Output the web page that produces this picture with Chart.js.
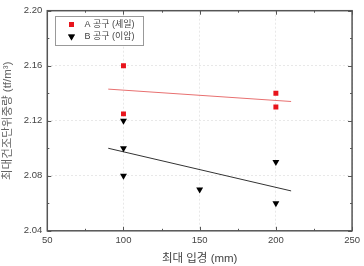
<!DOCTYPE html>
<html>
<head>
<meta charset="utf-8">
<script src="https://cdn.jsdelivr.net/npm/chart.js@4/dist/chart.umd.min.js"></script>
<style>
  html, body { margin: 0; padding: 0; background: #fff; }
  #wrap { width: 364px; height: 266px; position: relative; }
</style>
</head>
<body>
<div id="wrap"><canvas id="myChart"></canvas></div>
<script>
// data
const seriesNames = ['A 공구 (셰일)', 'B 공구 (이암)'];
const aX = [100, 100, 200, 200];
const aY = [2.16, 2.125, 2.14, 2.13];
const bX = [100, 100, 100, 150, 200, 200];
const bY = [2.12, 2.10, 2.08, 2.07, 2.09, 2.06];
// fitted lines (end points as read)
const fitAX = [90, 210];
const fitAY = [2.143, 2.134];
const fitBX = [90, 210];
const fitBY = [2.100, 2.069];
const xTicks = [50, 100, 150, 200, 250];
const yTicks = [2.04, 2.08, 2.12, 2.16, 2.20];

const pts = (xs, ys) => xs.map((x, i) => ({ x: x, y: ys[i] }));
const FONT = "'Liberation Sans', 'Noto Sans CJK KR', sans-serif";

// frame, inward tick marks and the boxed legend
const framePlugin = {
  id: 'frame',
  afterDraw: (chart) => {
    const ctx = chart.ctx;
    const { left, right, top, bottom } = chart.chartArea;
    const xs = chart.scales.x, ys = chart.scales.y;
    ctx.save();
    ctx.strokeStyle = '#555';
    ctx.lineWidth = 1.5;
    ctx.strokeRect(left, top, right - left, bottom - top);
    ctx.lineWidth = 1;
    for (let i = 0; i < xTicks.length; i++) {
      const v = xTicks[i];
      const px = Math.round(xs.getPixelForValue(v)) + 0.5;
      ctx.beginPath();
      ctx.moveTo(px, bottom); ctx.lineTo(px, bottom - 4);
      ctx.moveTo(px, top); ctx.lineTo(px, top + 4);
      ctx.stroke();
      if (i < xTicks.length - 1) {
        const mx = Math.round(xs.getPixelForValue((v + xTicks[i + 1]) / 2)) + 0.5;
        ctx.beginPath();
        ctx.moveTo(mx, bottom); ctx.lineTo(mx, bottom - 2);
        ctx.moveTo(mx, top); ctx.lineTo(mx, top + 2);
        ctx.stroke();
      }
    }
    for (let i = 0; i < yTicks.length; i++) {
      const v = yTicks[i];
      const py = Math.round(ys.getPixelForValue(v)) + 0.5;
      ctx.beginPath();
      ctx.moveTo(left, py); ctx.lineTo(left + 4, py);
      ctx.moveTo(right, py); ctx.lineTo(right - 4, py);
      ctx.stroke();
      if (i < yTicks.length - 1) {
        const my = Math.round(ys.getPixelForValue((v + yTicks[i + 1]) / 2)) + 0.5;
        ctx.beginPath();
        ctx.moveTo(left, my); ctx.lineTo(left + 2, my);
        ctx.moveTo(right, my); ctx.lineTo(right - 2, my);
        ctx.stroke();
      }
    }

    // legend
    const bx = Math.round(left) + 8.5, by = Math.round(top) + 5.5;
    const bw = 88, bh = 29;
    ctx.fillStyle = '#fff';
    ctx.fillRect(bx, by, bw, bh);
    ctx.strokeStyle = '#999';
    ctx.lineWidth = 1;
    ctx.strokeRect(bx, by, bw, bh);
    ctx.font = '9px ' + FONT;
    ctx.textBaseline = 'middle';
    ctx.fillStyle = '#444';
    for (let i = 0; i < 2; i++) {
      const ds = chart.data.datasets[i];
      const cy = by + 8 + i * 12;
      Chart.helpers.drawPoint(ctx, {
        pointStyle: ds.pointStyle,
        rotation: ds.rotation || 0,
        radius: ds.pointRadius,
        borderWidth: 0
      }, bx + 16, cy);
      ctx.fillStyle = ds.backgroundColor;
      ctx.fill();
      ctx.fillStyle = '#444';
      ctx.fillText(seriesNames[i], bx + 29, cy);
    }
    ctx.restore();
  }
};

const ctx = document.getElementById('myChart').getContext('2d');
const chart = new Chart(ctx, {
  type: 'scatter',
  data: {
    datasets: [
      {
        label: seriesNames[0],
        data: pts(aX, aY),
        pointStyle: 'rect',
        pointRadius: 3.5,
        backgroundColor: '#e8141c',
        borderColor: '#e8141c',
        borderWidth: 0
      },
      {
        label: seriesNames[1],
        data: pts(bX, bY),
        pointStyle: 'triangle',
        rotation: 180,
        pointRadius: 4,
        backgroundColor: '#000',
        borderColor: '#000',
        borderWidth: 0
      },
      {
        label: 'fitA',
        type: 'line',
        data: pts(fitAX, fitAY),
        borderColor: '#e87070',
        borderWidth: 1,
        pointRadius: 0,
        fill: false
      },
      {
        label: 'fitB',
        type: 'line',
        data: pts(fitBX, fitBY),
        borderColor: '#333',
        borderWidth: 1,
        pointRadius: 0,
        fill: false
      }
    ]
  },
  options: {
    responsive: true,
    maintainAspectRatio: false,
    animation: false,
    layout: { padding: { left: 1, right: 8, top: 9, bottom: 0 } },
    scales: {
      x: {
        type: 'linear',
        min: 50,
        max: 250,
        afterBuildTicks: (s) => { s.ticks = xTicks.map(v => ({ value: v })); },
        ticks: { color: '#444', font: { family: FONT, size: 9.5 }, padding: 4 },
        grid: { color: '#e8e8e8', drawTicks: false, lineWidth: 1 },
        border: { display: false, dash: [2, 2] },
        title: { display: true, text: '최대 입경 (mm)', color: '#444', font: { family: FONT, size: 11.5 }, padding: { top: 2, bottom: 0 } }
      },
      y: {
        type: 'linear',
        min: 2.04,
        max: 2.20,
        afterBuildTicks: (s) => { s.ticks = yTicks.map(v => ({ value: v })); },
        ticks: { color: '#444', font: { family: FONT, size: 9.5 }, padding: 5, callback: (v) => v.toFixed(2) },
        grid: { color: '#e8e8e8', drawTicks: false, lineWidth: 1 },
        border: { display: false, dash: [2, 2] },
        title: { display: true, text: '최대건조단위중량 (tf/m³)', color: '#666', font: { family: FONT, size: 11.5 }, padding: { top: 0, bottom: 4 } }
      }
    },
    plugins: {
      legend: { display: false },
      tooltip: { enabled: false }
    }
  },
  plugins: [framePlugin]
});
</script>
</body>
</html>
